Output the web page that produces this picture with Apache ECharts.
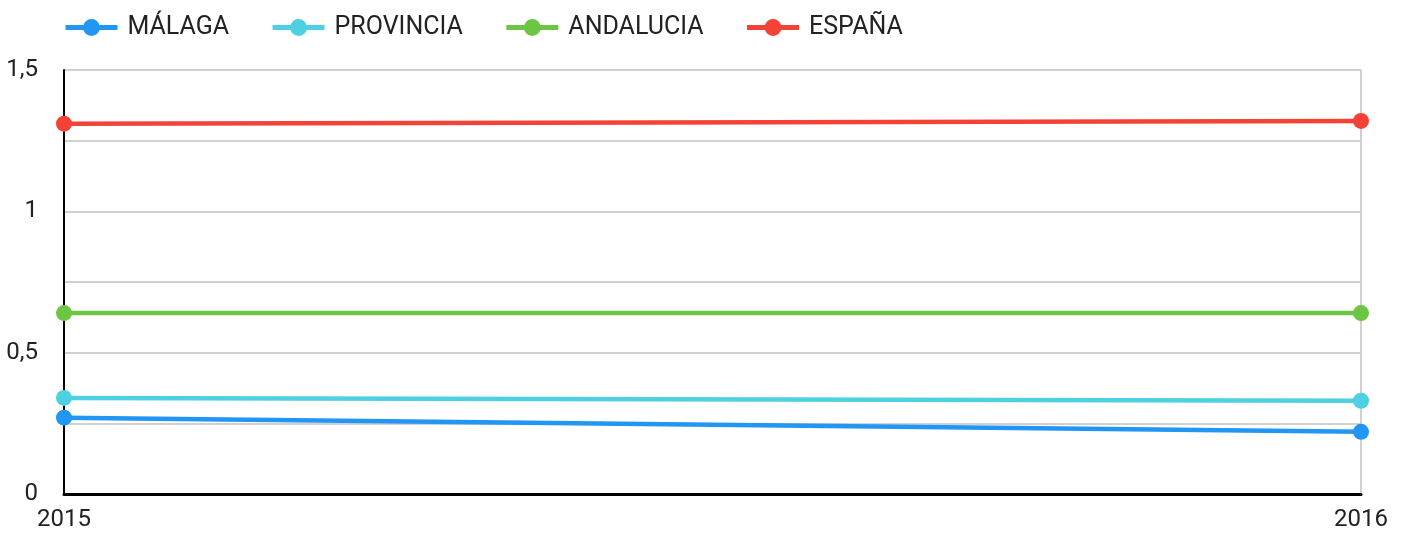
<!DOCTYPE html>
<html>
<head>
<meta charset="utf-8">
<script src="https://cdn.jsdelivr.net/npm/echarts@6/dist/echarts.min.js"></script>
<style>
html,body{margin:0;padding:0;background:#fff;}
#c{width:1405px;height:533px;}
</style>
</head>
<body>
<div id="c"></div>
<script>
const categories = ['2015', '2016'];
const malaga = [0.27, 0.22];
const provincia = [0.34, 0.33];
const andalucia = [0.64, 0.64];
const espana = [1.31, 1.32];
const seriesNames = ['MÁLAGA', 'PROVINCIA', 'ANDALUCIA', 'ESPAÑA'];
const colors = ['#2196F3', '#4DD0E1', '#6CC644', '#F44336'];

const chart = echarts.init(document.getElementById('c'));
const mk = (name, data, color) => ({
  name, type: 'line', data,
  symbol: 'circle', symbolSize: 16,
  lineStyle: { width: 4.5, color },
  itemStyle: { color },
  animation: false
});
chart.setOption({
  animation: false,
  textStyle: { fontFamily: 'Roboto' },
  legend: {
    top: 10, left: 58,
    itemWidth: 52, itemHeight: 21, itemGap: 41,
    lineStyle: { width: 5 },
    textStyle: { fontSize: 25, color: '#222', fontFamily: 'Roboto', padding: [0, 0, 0, 5] },
    data: seriesNames
  },
  grid: { left: 64, right: 44, top: 70, bottom: 39, containLabel: false },
  xAxis: {
    type: 'category', data: categories, boundaryGap: false,
    axisLine: { lineStyle: { color: '#000', width: 3 } },
    axisTick: { show: false },
    axisLabel: { fontSize: 24, color: '#222', margin: 14, fontFamily: 'Roboto' },
    splitLine: { show: true, lineStyle: { color: '#d0d0d0', width: 2 } }
  },
  yAxis: {
    type: 'value', min: 0, max: 1.5, interval: 0.25,
    axisLine: { show: true, lineStyle: { color: '#000', width: 2 } },
    axisTick: { show: false },
    axisLabel: {
      fontSize: 24, color: '#222', margin: 26, fontFamily: 'Roboto',
      formatter: v => (Math.abs(v * 2 - Math.round(v * 2)) < 1e-9) ? String(v).replace('.', ',') : ''
    },
    splitLine: { show: true, lineStyle: { color: '#d0d0d0', width: 2 } }
  },
  series: [
    mk(seriesNames[0], malaga, colors[0]),
    mk(seriesNames[1], provincia, colors[1]),
    mk(seriesNames[2], andalucia, colors[2]),
    mk(seriesNames[3], espana, colors[3])
  ]
});
</script>
</body>
</html>
